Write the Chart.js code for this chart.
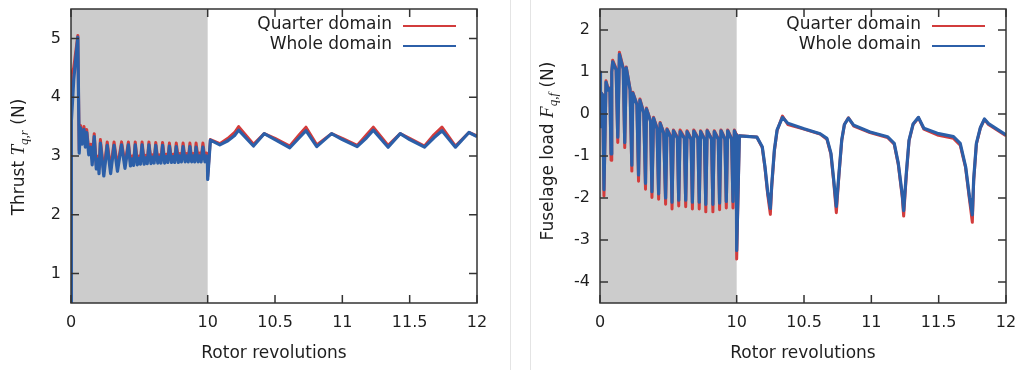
<!DOCTYPE html>
<html>
<head>
<meta charset="utf-8">
<script src="https://cdn.jsdelivr.net/npm/chart.js@4.4.1/dist/chart.umd.min.js"></script>
<style>
  body { margin: 0; background: #fff; }
  .wrap { position: relative; width: 1018px; height: 370px; overflow: hidden; }
  .panel { position: absolute; top: 0; }
  .rule { position: absolute; top: 0; width: 1px; height: 370px; background: #e4e4e4; }
</style>
</head>
<body>
<div class="wrap">
  <div class="panel" style="left:0"><canvas id="thrust" width="510" height="370"></canvas></div>
  <div class="rule" style="left:510px"></div>
  <div class="rule" style="left:530px"></div>
  <div class="panel" style="left:531px"><canvas id="load" width="487" height="370"></canvas></div>
</div>
<script>
const seriesLabels = ["Quarter domain", "Whole domain"];
const revTicks = [0, 10, 10.5, 11, 11.5, 12];
const thrustTicks = [1, 2, 3, 4, 5];
const loadTicks = [-4, -3, -2, -1, 0, 1, 2];

// thrust
const thrustRevs = [
  0, 0.03, 0.2, 0.5, 0.6, 0.7, 0.8, 0.95, 1.05, 1.15, 1.3, 1.45, 1.55, 1.7, 1.85, 2.0, 2.05,
  2.15, 2.4, 2.65, 2.9, 3.15, 3.4, 3.7, 3.95,
  4.2, 4.35, 4.48, 4.58, 4.7, 4.85, 4.98, 5.08, 5.2, 5.35, 5.48, 5.58,
  5.7, 5.85, 5.98, 6.08, 6.2, 6.35, 6.48, 6.58, 6.7, 6.85, 6.98, 7.08,
  7.2, 7.35, 7.48, 7.58, 7.7, 7.85, 7.98, 8.08, 8.2, 8.35, 8.48, 8.58,
  8.7, 8.83, 8.95, 9.05, 9.15, 9.3, 9.42, 9.52, 9.65, 9.8, 9.92, 9.98, 10.0,
  10.02, 10.09, 10.15, 10.2, 10.23, 10.34, 10.42, 10.5, 10.61, 10.68, 10.73, 10.81, 10.92, 11.0,
  11.11, 11.18, 11.23, 11.34, 11.43, 11.5, 11.61, 11.68, 11.74, 11.84, 11.94, 12.0
];
const thrustQuarter = [
  0.5, 4.4, 4.5, 5.05, 3.1, 3.52, 3.25, 3.5, 3.2, 3.45, 3.1, 3.2, 2.95, 3.38, 2.85, 3.0, 2.78,
  3.28, 2.74, 3.24, 2.78, 3.24, 2.82, 3.24, 2.86,
  3.24, 2.9, 3.0, 2.9, 3.24, 2.91, 3.0, 2.92, 3.24, 2.92, 3.01, 2.92,
  3.24, 2.93, 3.02, 2.93, 3.23, 2.93, 3.02, 2.94, 3.23, 2.94, 3.03, 2.94,
  3.22, 2.94, 3.03, 2.94, 3.22, 2.95, 3.04, 2.95, 3.22, 2.95, 3.04, 2.95,
  3.22, 2.95, 3.04, 2.95, 3.22, 2.95, 3.05, 2.95, 3.22, 2.95, 3.05, 2.98, 2.65,
  3.28, 3.21, 3.3, 3.4, 3.5, 3.2, 3.38, 3.3, 3.17, 3.36, 3.49, 3.19, 3.38, 3.3,
  3.18, 3.36, 3.49, 3.18, 3.38, 3.3, 3.17, 3.36, 3.49, 3.17, 3.4, 3.34
];
const thrustWhole = [
  0.5, 3.6, 4.3, 5.02, 3.05, 3.48, 3.2, 3.45, 3.15, 3.4, 3.02, 3.15, 2.85, 3.33, 2.78, 2.95, 2.7,
  3.22, 2.66, 3.18, 2.7, 3.18, 2.74, 3.19, 2.79,
  3.19, 2.83, 2.95, 2.84, 3.19, 2.85, 2.96, 2.86, 3.19, 2.86, 2.97, 2.87,
  3.19, 2.87, 2.98, 2.88, 3.18, 2.88, 2.98, 2.88, 3.18, 2.88, 2.99, 2.89,
  3.17, 2.89, 2.99, 2.89, 3.16, 2.89, 3.0, 2.9, 3.16, 2.9, 3.0, 2.9,
  3.16, 2.9, 3.0, 2.9, 3.15, 2.9, 3.0, 2.9, 3.15, 2.9, 3.0, 2.93, 2.6,
  3.27, 3.19, 3.26, 3.35, 3.44, 3.17, 3.38, 3.28, 3.14, 3.31, 3.43, 3.16, 3.38, 3.28,
  3.16, 3.31, 3.44, 3.15, 3.38, 3.28, 3.15, 3.31, 3.43, 3.15, 3.4, 3.33
];

// fuselage load
const loadRevs = [
  0, 0.02, 0.05, 0.1, 0.2, 0.29, 0.44, 0.6, 0.72, 0.81, 0.86, 0.93, 1.18, 1.3, 1.42, 1.7, 1.81, 1.92,
  2.2, 2.33, 2.4, 2.7, 2.82, 2.92, 3.2, 3.33, 3.4, 3.7, 3.8, 3.92, 4.17, 4.29, 4.4, 4.66, 4.8, 4.9,
  5.17, 5.27, 5.37, 5.66, 5.76, 5.86, 6.17, 6.27, 6.37, 6.66, 6.76, 6.86, 7.16, 7.26, 7.36,
  7.64, 7.74, 7.84, 8.16, 8.26, 8.36, 8.65, 8.75, 8.85, 9.14, 9.24, 9.34, 9.63, 9.73, 9.83, 9.96, 10.0,
  10.02, 10.15, 10.19, 10.21, 10.23, 10.25, 10.26, 10.28, 10.3, 10.34, 10.38, 10.5, 10.62,
  10.67, 10.7, 10.72, 10.74, 10.76, 10.78, 10.8, 10.83, 10.87, 10.99, 11.12,
  11.17, 11.2, 11.23, 11.24, 11.26, 11.28, 11.31, 11.35, 11.39, 11.49, 11.61,
  11.66, 11.7, 11.73, 11.75, 11.76, 11.78, 11.81, 11.84, 11.87, 12.0
];
const loadQuarter = [
  0.6, 1.0, -0.3, 0.5, 0.45, -1.95, 0.79, 0.59, 0.62, -1.1, 1.0, 1.28, 1.08, -0.68, 1.47, 1.1, -0.8, 1.12,
  0.6, -1.36, 0.52, 0.24, -1.6, 0.36, 0.04, -1.79, 0.14, -0.16, -1.99, -0.08, -0.32, -2.03, -0.2, -0.44, -2.15, -0.35,
  -0.52, -2.26, -0.38, -0.55, -2.19, -0.38, -0.56, -2.21, -0.4, -0.58, -2.26, -0.38, -0.56, -2.26, -0.4,
  -0.58, -2.33, -0.38, -0.58, -2.33, -0.4, -0.58, -2.28, -0.38, -0.58, -2.24, -0.38, -0.58, -2.24, -0.38, -0.48, -3.45,
  -0.52, -0.55, -0.8, -1.28, -1.91, -2.39, -1.75, -0.88, -0.4, -0.05, -0.25, -0.36, -0.48,
  -0.6, -0.96, -1.6, -2.35, -1.44, -0.64, -0.25, -0.09, -0.29, -0.44, -0.56,
  -0.72, -1.2, -1.99, -2.43, -1.44, -0.64, -0.25, -0.09, -0.36, -0.5, -0.58,
  -0.74, -1.28, -2.07, -2.58, -1.6, -0.72, -0.33, -0.13, -0.25, -0.52
];
const loadWhole = [
  0.6, 1.0, -0.3, 0.5, 0.45, -1.8, 0.76, 0.57, 0.6, -0.95, 1.0, 1.24, 1.05, -0.55, 1.42, 1.07, -0.68, 1.1,
  0.57, -1.22, 0.5, 0.22, -1.45, 0.33, 0.02, -1.65, 0.12, -0.18, -1.85, -0.1, -0.35, -1.9, -0.22, -0.46, -2.0, -0.37,
  -0.55, -2.1, -0.4, -0.58, -2.05, -0.42, -0.58, -2.05, -0.42, -0.6, -2.1, -0.41, -0.58, -2.1, -0.42,
  -0.6, -2.15, -0.4, -0.6, -2.15, -0.42, -0.6, -2.12, -0.4, -0.6, -2.08, -0.4, -0.6, -2.08, -0.4, -0.5, -3.25,
  -0.52, -0.55, -0.78, -1.25, -1.85, -2.25, -1.7, -0.85, -0.38, -0.08, -0.22, -0.35, -0.47,
  -0.58, -0.93, -1.55, -2.2, -1.4, -0.62, -0.25, -0.1, -0.27, -0.43, -0.54,
  -0.7, -1.17, -1.93, -2.3, -1.4, -0.62, -0.24, -0.08, -0.34, -0.46, -0.54,
  -0.7, -1.25, -2.0, -2.4, -1.55, -0.7, -0.32, -0.12, -0.23, -0.5
];

const red = "#d23c3c";
const blue = "#2c5fa8";
const ink = "#1e1e1e";
const font = "DejaVu Sans";

// the first ten revolutions are squeezed into the same width as one revolution after them
const SPLIT = 1.015;
const toAxis = (rev) => (rev <= 10 ? (rev * SPLIT) / 10 : SPLIT + rev - 10);

const toPoints = (revs, values) => revs.map((r, i) => ({ x: toAxis(r), y: values[i] }));

const framePlugin = {
  id: "frame",
  beforeDatasetsDraw(chart) {
    const { ctx, chartArea: a, scales } = chart;
    const x0 = scales.x.getPixelForValue(0);
    const x1 = scales.x.getPixelForValue(toAxis(10));
    ctx.save();
    ctx.fillStyle = "#cccccc";
    ctx.fillRect(x0, a.top, x1 - x0, a.bottom - a.top);
    ctx.restore();
  },
  afterDatasetsDraw(chart) {
    const { ctx, chartArea: a, scales } = chart;
    const len = 8;
    ctx.save();
    ctx.strokeStyle = "#333";
    ctx.lineWidth = 1.5;
    ctx.beginPath();
    for (const t of scales.x.ticks) {
      const px = scales.x.getPixelForValue(t.value);
      ctx.moveTo(px, a.bottom);
      ctx.lineTo(px, a.bottom - len);
      ctx.moveTo(px, a.top);
      ctx.lineTo(px, a.top + len);
    }
    for (const t of scales.y.ticks) {
      const py = scales.y.getPixelForValue(t.value);
      ctx.moveTo(a.left, py);
      ctx.lineTo(a.left + len, py);
      ctx.moveTo(a.right, py);
      ctx.lineTo(a.right - len, py);
    }
    ctx.stroke();
    ctx.strokeRect(a.left, a.top, a.right - a.left, a.bottom - a.top);
    ctx.restore();
  },
};

// gnuplot style key: text right aligned, line sample after it
const keyPlugin = {
  id: "key",
  afterDraw(chart) {
    const { ctx, chartArea: a } = chart;
    ctx.save();
    ctx.font = `17px "${font}"`;
    ctx.textAlign = "right";
    ctx.textBaseline = "middle";
    seriesLabels.forEach((label, i) => {
      const y = a.top + 16 + i * 20;
      ctx.fillStyle = ink;
      ctx.fillText(label, a.right - 85, y);
      ctx.strokeStyle = i === 0 ? red : blue;
      ctx.lineWidth = 2;
      ctx.beginPath();
      ctx.moveTo(a.right - 74, y + 1);
      ctx.lineTo(a.right - 21, y + 1);
      ctx.stroke();
    });
    ctx.restore();
  },
};

// y title with an italic symbol and subscript
const yTitlePlugin = {
  id: "yTitle",
  afterDraw(chart, args, opts) {
    const { ctx } = chart;
    const parts = [
      { text: opts.pre, font: `17px "${font}"`, dy: 0 },
      { text: opts.sym, font: `italic 19px "Liberation Serif"`, dy: 0 },
      { text: opts.sub, font: `italic 13px "Liberation Serif"`, dy: 4 },
      { text: " (N)", font: `17px "${font}"`, dy: 0 },
    ];
    let total = 0;
    for (const p of parts) {
      ctx.font = p.font;
      p.w = ctx.measureText(p.text).width;
      total += p.w;
    }
    ctx.save();
    ctx.translate(opts.x, opts.y);
    ctx.rotate(-Math.PI / 2);
    ctx.fillStyle = ink;
    ctx.textBaseline = "alphabetic";
    let x = -total / 2;
    for (const p of parts) {
      ctx.font = p.font;
      ctx.fillText(p.text, x, 6 + p.dy);
      x += p.w;
    }
    ctx.restore();
  },
};

function makeChart(id, revs, quarter, whole, yTicks, yMin, yMax, yWidth, padRight, title) {
  return new Chart(document.getElementById(id), {
    type: "line",
    data: {
      datasets: [
        { label: seriesLabels[0], data: toPoints(revs, quarter), borderColor: red, borderWidth: 3, order: 1 },
        { label: seriesLabels[1], data: toPoints(revs, whole), borderColor: blue, borderWidth: 3.2, order: 0 },
      ],
    },
    options: {
      responsive: false,
      animation: false,
      devicePixelRatio: 1,
      layout: { padding: { top: 9, right: padRight, bottom: 0, left: 0 } },
      elements: { point: { radius: 0 }, line: { tension: 0, borderJoinStyle: "round" } },
      plugins: { legend: { display: false }, tooltip: { enabled: false }, yTitle: title },
      scales: {
        x: {
          type: "linear",
          min: 0,
          max: toAxis(12),
          grid: { display: false, drawTicks: false },
          border: { display: false },
          afterBuildTicks: (scale) => {
            scale.ticks = revTicks.map((v) => ({ value: toAxis(v) }));
          },
          afterFit: (scale) => {
            scale.height = 67;
            scale.paddingLeft = 0;
            scale.paddingRight = 0;
          },
          ticks: {
            padding: 10,
            maxRotation: 0,
            color: ink,
            font: { family: font, size: 16 },
            callback: (value, index) => revTicks[index],
          },
          title: {
            display: true,
            text: "Rotor revolutions",
            color: ink,
            font: { family: font, size: 17 },
            padding: 6,
          },
        },
        y: {
          min: yMin,
          max: yMax,
          grid: { display: false, drawTicks: false },
          border: { display: false },
          afterBuildTicks: (scale) => {
            scale.ticks = yTicks.map((v) => ({ value: v }));
          },
          afterFit: (scale) => {
            scale.width = yWidth;
            scale.paddingTop = 0;
            scale.paddingBottom = 0;
          },
          ticks: {
            padding: 10,
            color: ink,
            font: { family: font, size: 16 },
          },
        },
      },
    },
    plugins: [framePlugin, keyPlugin, yTitlePlugin],
  });
}

makeChart("thrust", thrustRevs, thrustQuarter, thrustWhole, thrustTicks, 0.5, 5.5, 71, 33,
  { pre: "Thrust ", sym: "T", sub: "q,r", x: 18, y: 157 });
makeChart("load", loadRevs, loadQuarter, loadWhole, loadTicks, -4.5, 2.5, 69, 12,
  { pre: "Fuselage load ", sym: "F", sub: "q,f", x: 16, y: 151 });
</script>
</body>
</html>
